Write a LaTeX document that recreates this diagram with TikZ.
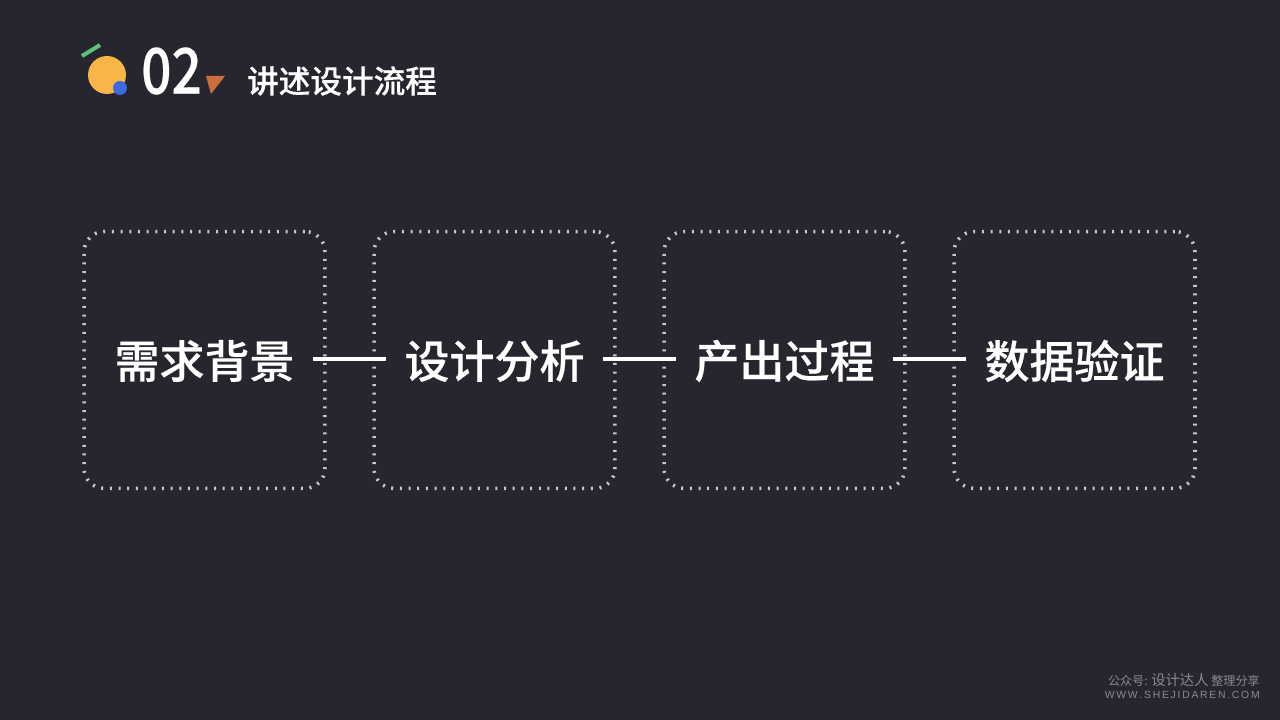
\documentclass[tikz,border=0pt]{standalone}
\usepackage{fontspec}
\newfontfamily\cjk{Noto Sans CJK SC}
\newfontfamily\cjkmed[FakeBold=0.4]{Noto Sans CJK SC Medium}
\setmainfont{Liberation Sans}
\definecolor{bgdark}{HTML}{25262E}
\definecolor{dotgray}{HTML}{C8C8C8}
\definecolor{markgray}{HTML}{8A8B90}
\definecolor{sunyellow}{HTML}{F8B548}
\definecolor{dotblue}{HTML}{3E68E0}
\definecolor{leafgreen}{HTML}{5CC27C}
\definecolor{wedgeorange}{HTML}{CB6E3C}
\begin{document}
\begin{tikzpicture}[x=0.025cm, y=-0.025cm]
	\tikzstyle{dotbox} = [draw=dotgray, line width=0.09cm, dash pattern=on 0.05cm off 0.167cm, rounded corners=0.5cm, minimum width=6.02cm, minimum height=6.42cm]
	\tikzstyle{stage} = [text=white, inner sep=0.45cm, font=\cjkmed\fontsize{32}{36}\selectfont]
	\tikzstyle{link} = [draw=white, line width=0.085cm]
	\fill[bgdark] (0,0) rectangle (1280,720);
	\useasboundingbox (0,0) rectangle (1280,720);
	% header
	\fill[sunyellow] (107,75) circle (19);
	\fill[dotblue] (120,88) circle (7);
	\draw[leafgreen, line width=0.1cm] (82,56) -- (100,45);
	\fill[wedgeorange] (206,76) -- (225,76) -- (211,94) -- cycle;
	\node[text=white, xscale=0.84, inner sep=0, font=\cjkmed\fontsize{45}{50}\selectfont](num) at (171.5,71) {02};
	\node[text=white, inner sep=0, font=\cjkmed\fontsize{22.5}{26}\selectfont](title) at (342,81) {讲述设计流程};
	% boxes
	\node[dotbox](B1) at (204.5,360) {};
	\node[dotbox](B2) at (494.5,360) {};
	\node[dotbox](B3) at (784.5,360) {};
	\node[dotbox](B4) at (1074.5,360) {};
	\node[stage](S1) at (204.5,361) {需求背景};
	\node[stage](S2) at (494.5,361) {设计分析};
	\node[stage](S3) at (784.5,361) {产出过程};
	\node[stage](S4) at (1074.5,361) {数据验证};
	\path[link] ([yshift=0.05cm]S1.east) -- ([yshift=0.05cm]S2.west);
	\path[link] ([yshift=0.05cm]S2.east) -- ([yshift=0.05cm]S3.west);
	\path[link] ([yshift=0.05cm]S3.east) -- ([yshift=0.05cm]S4.west);
	% watermark
	\node[text=markgray, inner sep=0, anchor=east, font=\cjk\fontsize{8.6}{10}\selectfont](mark) at (1260,680) {公众号: {\fontsize{10.2}{14}\selectfont 设计达人} 整理分享};
	\node[text=markgray, inner sep=0, anchor=east, font=\fontsize{7.4}{9}\selectfont](site) at (1260,695) {W\,W\,W\,.\,S\,H\,E\,J\,I\,D\,A\,R\,E\,N\,.\,C\,O\,M};
\end{tikzpicture}
\end{document}
